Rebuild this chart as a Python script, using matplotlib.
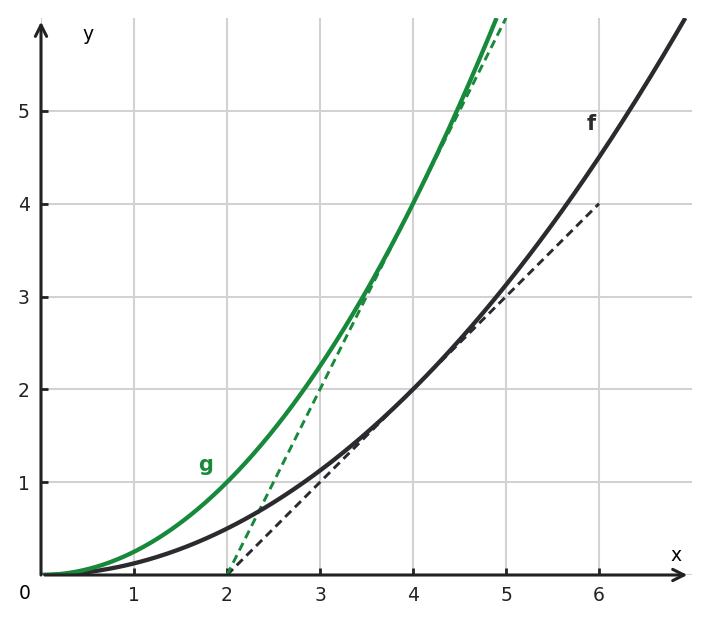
#!/usr/bin/env python3
"""========================================================================
Purpose:
    Parabolas f and g with their tangent lines at x = 4.
========================================================================"""
#=========================================================================#
# Preamble                                                                #
#=========================================================================#
import numpy as np
import matplotlib
matplotlib.use('Agg')
import matplotlib.pyplot as plt
#-------------------------------------------------------------------------#
# Plot settings                                                           #
#-------------------------------------------------------------------------#
plt.rcParams['font.family'] = ['DejaVu Sans']
plt.rcParams['font.size'] = 13.5
#-------------------------------------------------------------------------#
# Data                                                                    #
#-------------------------------------------------------------------------#
curve_names     = ['f', 'g']
curve_coefs     = [1.0/8.0, 1.0/4.0]        # y = a*x^2
curve_colors    = ['#2b2a2e', '#17893b']
tangent_x0      = 4.0
tangent_range   = [[2.0, 6.0], [2.0, 5.0]]
label_pos       = [[5.92, 4.86], [1.77, 1.18]]
x_ticks         = [1, 2, 3, 4, 5, 6]
y_ticks         = [1, 2, 3, 4, 5]
x_max           = 7.0
y_max           = 6.0
#=========================================================================#
# Main                                                                    #
#=========================================================================#
if __name__ == '__main__':
    fig = plt.figure(figsize=(7.09, 6.23), dpi=100)
    ax  = fig.add_axes([41/709, 1 - 575/623, (692 - 41)/709, (575 - 18)/623])
    ax.set_xlim(0, x_max)
    ax.set_ylim(0, y_max)
    #---------------------------------------------------------------------#
    # Grid                                                                #
    #---------------------------------------------------------------------#
    grid_c = '#d2d2d2'
    for xv in [0] + x_ticks:
        ax.axvline(xv, color=grid_c, lw=1.5, zorder=0)
    for yv in [0] + y_ticks:
        ax.axhline(yv, color=grid_c, lw=1.5, zorder=0)
    for s in ax.spines.values():
        s.set_visible(False)
    #---------------------------------------------------------------------#
    # Curves and tangents                                                 #
    #---------------------------------------------------------------------#
    for name, a, c, tr, lp in zip(curve_names, curve_coefs, curve_colors,
                                  tangent_range, label_pos):
        xs  = np.linspace(0, min(x_max, np.sqrt(y_max/a)), 400)
        ax.plot(xs, a*xs**2, color=c, lw=3.1, zorder=4, solid_capstyle='butt')
        slope   = 2*a*tangent_x0
        y0      = a*tangent_x0**2
        xt      = np.array(tr)
        ax.plot(xt, y0 + slope*(xt - tangent_x0), color=c, lw=2.1,
                linestyle=(0, (2.9, 1.8)), zorder=3)
        ax.text(lp[0], lp[1], name, color=c, fontsize=15, fontweight='bold',
                ha='center', va='center')
    #---------------------------------------------------------------------#
    # Axes arrows                                                         #
    #---------------------------------------------------------------------#
    ax_c = '#222222'
    arrow = dict(arrowstyle='->,head_length=0.6,head_width=0.3', color=ax_c,
                 lw=2.2, shrinkA=0, shrinkB=0)
    ax.annotate('', xy=(6.95, 0), xytext=(0.04, 0), arrowprops=arrow,
                annotation_clip=False, zorder=5)
    ax.annotate('', xy=(0, 5.96), xytext=(0, 0), arrowprops=arrow,
                annotation_clip=False, zorder=5)
    ax.text(6.83, 0.21, 'x', ha='center', va='center')
    ax.text(0.5, 5.82, 'y', ha='center', va='center')
    ax.text(-0.18, -0.2, '0', ha='center', va='center', clip_on=False)
    #---------------------------------------------------------------------#
    # Ticks                                                               #
    #---------------------------------------------------------------------#
    ax.set_xticks(x_ticks)
    ax.set_yticks(y_ticks)
    ax.tick_params(direction='in', length=5, width=2, color=ax_c,
                   labelcolor=ax_c, pad=8)
    plt.savefig('out.png', dpi=100)
    plt.close()
